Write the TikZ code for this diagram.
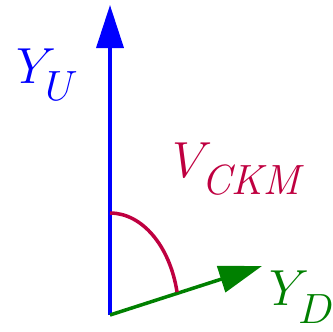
\documentclass[tikz,border=0pt]{standalone}
\usepackage{tikz}
\usetikzlibrary{arrows.meta, positioning}
\definecolor{ublue}{RGB}{0,0,255}
\definecolor{dgreen}{RGB}{0,128,0}
\definecolor{ckm}{RGB}{191,0,64}
\newcommand{\lowsub}[1]{\raisebox{-5pt}{$\scriptstyle #1$}}

\begin{document}
\begin{tikzpicture}[
		vec/.style={line width=2.5pt, -{Triangle[length=1.075cm, width=0.675cm]}},
		lbl/.style={inner sep=0pt, anchor=base west, font=\Huge, scale=1.45}
	]
		\useasboundingbox (0,0) rectangle (8.325,8.275);
		% common origin and vector tips
		\coordinate (O) at (2.75,0.4);
		\coordinate (tipU) at (2.75,8.15);
		\coordinate (tipD) at (6.55,1.625);
		\coordinate (arcstart) at (2.75,2.95);
		
		% up-type Yukawa (vertical)
		\draw[vec, ublue] (O) -- (tipU);
		\node[lbl, ublue] (yu) at (0.4,6.2) {$Y_{\lowsub{U}}$};
		
		% down-type Yukawa (tilted)
		\draw[vec, dgreen] (O) -- (tipD);
		\node[lbl, dgreen] (yd) at (6.72,0.64) {$Y_{\lowsub{D}}$};
		
		% mixing angle
		\draw[ckm, line width=2.5pt] (arcstart) arc[start angle=90, end angle=13, x radius=1.72, y radius=2.55];
		\node[lbl, ckm] (vckm) at (4.3,3.85) {$V_{\lowsub{\mathit{CKM}}}$};
	\end{tikzpicture}
\end{document}
